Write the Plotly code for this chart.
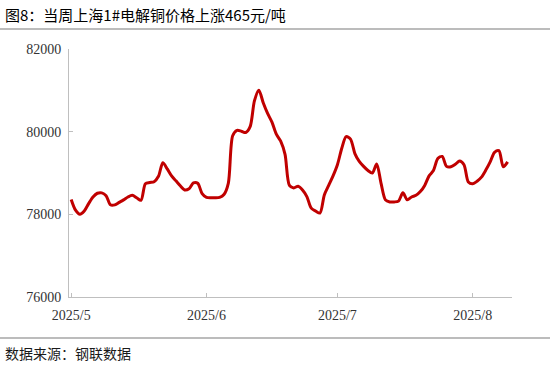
import plotly.graph_objects as go
import datetime as dt

# ---- data ----
start_date = "2025-05-01"
prices = [
    78360, 78100, 78000, 78080, 78260, 78420, 78510, 78520, 78450, 78230,
    78230, 78290, 78350, 78420, 78460, 78400, 78340, 78740, 78770, 78790,
    78920, 79250, 79100, 78930, 78810, 78690, 78590, 78620, 78760, 78750,
    78500, 78410, 78400, 78400, 78410, 78480, 78750, 79900, 80030, 80010,
    79980, 80120, 80750, 81000, 80700, 80440, 80230, 79940, 79770, 79450,
    78700, 78640, 78680, 78590, 78430, 78150, 78080, 78030, 78470, 78700,
    78930, 79200, 79600, 79880, 79820, 79470, 79280, 79160, 79060, 79000,
    79220, 78750, 78350, 78300, 78300, 78320, 78520, 78350, 78420, 78460,
    78550, 78700, 78930, 79060, 79350, 79400, 79160, 79150, 79210, 79290,
    79200, 78780, 78740, 78800, 78900, 79070, 79270, 79500, 79540, 79150,
    79270,
]
d0 = dt.date.fromisoformat(start_date)
dates = [d0 + dt.timedelta(days=i) for i in range(len(prices))]

month_ticks = ["2025-05-01", "2025-06-01", "2025-07-01", "2025-08-01"]
month_labels = ["2025/5", "2025/6", "2025/7", "2025/8"]
y_ticks = [76000, 78000, 80000, 82000]

title_text = "图8：当周上海1#电解铜价格上涨465元/吨"
source_text = "数据来源：钢联数据"

# ---- layout geometry (pixels) ----
W, H = 550, 367
L, R, T, B = 69, 512, 49, 297


def px_x(px):
    return (px - L) / (R - L)


def px_y(py):
    return (B - py) / (B - T)


fig = go.Figure()
fig.add_trace(go.Scatter(
    x=dates, y=prices, mode="lines",
    line=dict(color="#C00000", width=3, shape="spline", smoothing=0.8),
    hoverinfo="skip", showlegend=False,
))

axis_font = dict(family="Liberation Serif, Times New Roman, serif", size=14, color="#333333")

fig.update_layout(
    width=W, height=H, autosize=False,
    margin=dict(l=L, r=W - R, t=T, b=H - B, pad=0),
    paper_bgcolor="white", plot_bgcolor="white",
    showlegend=False,
    xaxis=dict(
        type="date",
        range=["2025-04-30 12:00", "2025-08-10"],
        tickmode="array", tickvals=month_ticks, ticktext=month_labels,
        ticks="inside", ticklen=4, tickcolor="#bfbfbf", tickwidth=1,
        showline=True, linecolor="#bfbfbf", linewidth=1,
        showgrid=False, zeroline=False,
        tickfont=axis_font,
        ticklabelstandoff=5,
    ),
    yaxis=dict(
        range=[76000, 82000],
        tickmode="array", tickvals=y_ticks,
        ticktext=[str(v) for v in y_ticks],
        ticks="inside", ticklen=4, tickcolor="#bfbfbf", tickwidth=1,
        showline=True, linecolor="#bfbfbf", linewidth=1,
        showgrid=False, zeroline=False,
        tickfont=axis_font,
        ticklabelstandoff=4,
    ),
    shapes=[
        dict(type="line", xref="paper", yref="paper",
             x0=px_x(0), x1=px_x(W), y0=px_y(29), y1=px_y(29),
             line=dict(color="#a6a6a6", width=1.5)),
        dict(type="line", xref="paper", yref="paper",
             x0=px_x(0), x1=px_x(W), y0=px_y(338), y1=px_y(338),
             line=dict(color="#a6a6a6", width=1.5)),
    ],
    annotations=[
        dict(text=title_text, xref="paper", yref="paper",
             x=px_x(3), y=px_y(14), xanchor="left", yanchor="middle",
             showarrow=False,
             font=dict(family="Noto Sans CJK SC", size=15, color="#000000")),
        dict(text=source_text, xref="paper", yref="paper",
             x=px_x(3), y=px_y(353), xanchor="left", yanchor="middle",
             showarrow=False,
             font=dict(family="Noto Sans CJK SC", size=14, color="#1a1a1a")),
    ],
)

fig.write_html(
    "out.html",
    config={"displayModeBar": False, "staticPlot": True},
    post_script="document.body.style.margin='0';document.body.style.overflow='hidden';",
)
